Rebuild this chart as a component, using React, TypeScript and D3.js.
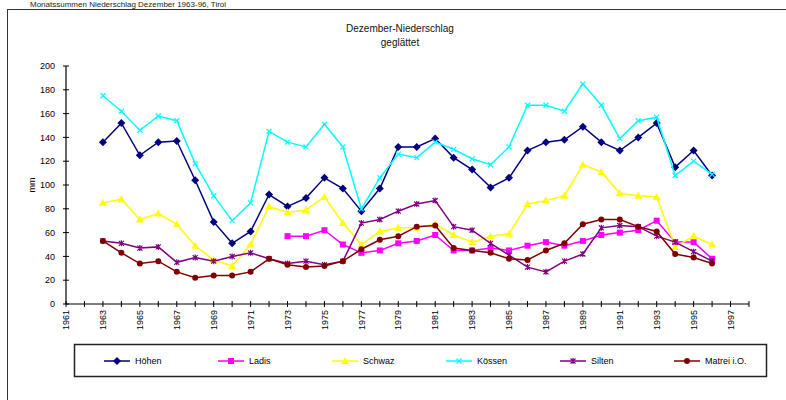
import React, { useEffect, useRef } from "react";
import * as d3 from "d3";

// Dezember-Niederschlag (geglättet), mm, 1963-1996
const firstYear = 1963;
const hoehen = [136, 152, 125, 136, 137, 104, 69, 51, 61, 92, 82, 89, 106, 97, 78, 97, 132, 132, 139, 123, 113, 98, 106, 129, 136, 138, 149, 136, 129, 140, 152, 115, 129, 108];
const koessen = [175, 162, 146, 158, 154, 118, 91, 70, 85, 145, 136, 132, 151, 132, 80, 106, 126, 123, 136, 130, 122, 117, 132, 167, 167, 162, 185, 167, 139, 154, 157, 108, 120, 109];
const schwaz = [85, 88, 71, 76, 67, 49, 37, 32, 50, 82, 77, 79, 90, 68, 50, 61, 64, 64, 67, 58, 52, 57, 59, 84, 87, 91, 117, 111, 93, 91, 90, 48, 57, 50];
// Ladis erst ab 1973
const ladisStart = 1973;
const ladis = [57, 57, 62, 50, 43, 45, 51, 53, 58, 45, 45, 47, 45, 49, 52, 49, 53, 58, 60, 62, 70, 52, 52, 38];
const silten = [53, 51, 47, 48, 35, 39, 36, 40, 43, 38, 34, 36, 33, 36, 68, 71, 78, 84, 87, 65, 62, 51, 41, 31, 27, 36, 42, 64, 66, 65, 57, 52, 44, 36];
const matrei = [53, 43, 34, 36, 27, 22, 24, 24, 27, 38, 33, 31, 32, 36, 46, 54, 57, 65, 66, 47, 45, 43, 38, 37, 45, 51, 67, 71, 71, 65, 61, 42, 39, 34];

const seriesNames = ["Höhen", "Ladis", "Schwaz", "Kössen", "Silten", "Matrei i.O."];
const yTicks = [0, 20, 40, 60, 80, 100, 120, 140, 160, 180, 200];
const xLabels = d3.range(1961, 1998, 2);

const FONT = "'Liberation Sans', Arial, sans-serif";

function App() {
  const node = useRef<SVGSVGElement | null>(null);

  useEffect(() => {
    const svg = d3.select(node.current);
    svg.selectAll("*").remove();

    const x = d3.scaleLinear().domain([1961, 1998]).range([66, 749]);
    const y = d3.scaleLinear().domain([0, 200]).range([304, 66]);

    const series = [
      { name: seriesNames[0], start: firstYear, values: hoehen, color: "#000080", marker: "diamond" },
      { name: seriesNames[1], start: ladisStart, values: ladis, color: "#FF00FF", marker: "square" },
      { name: seriesNames[2], start: firstYear, values: schwaz, color: "#FFFF00", marker: "triangle" },
      { name: seriesNames[3], start: firstYear, values: koessen, color: "#00FFFF", marker: "cross" },
      { name: seriesNames[4], start: firstYear, values: silten, color: "#800080", marker: "star" },
      { name: seriesNames[5], start: firstYear, values: matrei, color: "#800000", marker: "circle" },
    ];

    // outer chart frame
    svg.append("rect")
      .attr("x", 7.5).attr("y", 9.5)
      .attr("width", 800).attr("height", 420)
      .attr("fill", "white").attr("stroke", "#333").attr("stroke-width", 1);

    // caption above the chart
    svg.append("text")
      .attr("x", 30).attr("y", 7)
      .attr("font-family", FONT).attr("font-size", 8)
      .attr("fill", "#222")
      .text("Monatssummen Niederschlag Dezember 1963-96, Tirol");

    // title
    const title = svg.append("text")
      .attr("text-anchor", "middle")
      .attr("font-family", FONT).attr("font-size", 10)
      .attr("fill", "#111");
    title.append("tspan").attr("x", 400).attr("y", 32).text("Dezember-Niederschlag");
    title.append("tspan").attr("x", 400).attr("y", 46).text("geglättet");

    // y axis
    const yAxis = svg.append("g");
    yAxis.append("line")
      .attr("x1", x(1961)).attr("x2", x(1961))
      .attr("y1", y(200)).attr("y2", y(0))
      .attr("stroke", "#000").attr("stroke-width", 1.2);
    yTicks.forEach((t) => {
      yAxis.append("line")
        .attr("x1", x(1961) - 3).attr("x2", x(1961) + 3)
        .attr("y1", y(t)).attr("y2", y(t))
        .attr("stroke", "#000");
      yAxis.append("text")
        .attr("x", 55).attr("y", y(t)).attr("dy", "0.35em")
        .attr("text-anchor", "end")
        .attr("font-family", FONT).attr("font-size", 9)
        .text(t);
    });
    svg.append("text")
      .attr("transform", `translate(35,${y(100)}) rotate(-90)`)
      .attr("text-anchor", "middle")
      .attr("font-family", FONT).attr("font-size", 9)
      .text("mm");

    // x axis
    const xAxis = svg.append("g");
    xAxis.append("line")
      .attr("x1", x(1961)).attr("x2", x(1998))
      .attr("y1", y(0)).attr("y2", y(0))
      .attr("stroke", "#000").attr("stroke-width", 1.2);
    d3.range(1961, 1999).forEach((yr) => {
      xAxis.append("line")
        .attr("x1", x(yr)).attr("x2", x(yr))
        .attr("y1", y(0) - 3).attr("y2", y(0) + 3)
        .attr("stroke", "#000");
    });
    xLabels.forEach((yr) => {
      xAxis.append("text")
        .attr("transform", `translate(${x(yr)},${y(0) + 6}) rotate(-90)`)
        .attr("text-anchor", "end").attr("dy", "0.35em")
        .attr("font-family", FONT).attr("font-size", 9)
        .text(yr);
    });

    const drawMarker = (g: any, kind: string, cx: number, cy: number, color: string) => {
      if (kind === "diamond") {
        g.append("path").attr("d", `M${cx},${cy - 4}L${cx + 4},${cy}L${cx},${cy + 4}L${cx - 4},${cy}Z`).attr("fill", color);
      } else if (kind === "square") {
        g.append("rect").attr("x", cx - 3).attr("y", cy - 3).attr("width", 6).attr("height", 6).attr("fill", color);
      } else if (kind === "triangle") {
        g.append("path").attr("d", `M${cx},${cy - 4}L${cx + 4},${cy + 3}L${cx - 4},${cy + 3}Z`).attr("fill", color);
      } else if (kind === "cross") {
        g.append("path").attr("d", `M${cx - 2.5},${cy - 2.5}L${cx + 2.5},${cy + 2.5}M${cx + 2.5},${cy - 2.5}L${cx - 2.5},${cy + 2.5}`)
          .attr("stroke", color).attr("stroke-width", 1.2);
      } else if (kind === "star") {
        g.append("path").attr("d", `M${cx - 2.5},${cy - 2.5}L${cx + 2.5},${cy + 2.5}M${cx + 2.5},${cy - 2.5}L${cx - 2.5},${cy + 2.5}M${cx},${cy - 3}L${cx},${cy + 3}`)
          .attr("stroke", color).attr("stroke-width", 1.2);
      } else {
        g.append("circle").attr("cx", cx).attr("cy", cy).attr("r", 3).attr("fill", color);
      }
    };

    const line = d3.line<[number, number]>()
      .x((d) => x(d[0]))
      .y((d) => y(d[1]));

    series.forEach((s) => {
      const pts: [number, number][] = s.values.map((v, i) => [s.start + i, v]);
      const g = svg.append("g");
      g.append("path")
        .attr("d", line(pts))
        .attr("fill", "none")
        .attr("stroke", s.color)
        .attr("stroke-width", 1.5);
      pts.forEach((p) => drawMarker(g, s.marker, x(p[0]), y(p[1]), s.color));
    });

    // legend
    const legend = svg.append("g");
    legend.append("rect")
      .attr("x", 74.5).attr("y", 344.5)
      .attr("width", 692).attr("height", 32)
      .attr("fill", "white").attr("stroke", "#222").attr("stroke-width", 1.5);
    series.forEach((s, i) => {
      const lx = 104 + i * 114;
      const ly = 361;
      const item = legend.append("g");
      item.append("line")
        .attr("x1", lx).attr("x2", lx + 26)
        .attr("y1", ly).attr("y2", ly)
        .attr("stroke", s.color).attr("stroke-width", 1.5);
      drawMarker(item, s.marker, lx + 13, ly, s.color);
      item.append("text")
        .attr("x", lx + 31).attr("y", ly).attr("dy", "0.35em")
        .attr("font-family", FONT).attr("font-size", 9)
        .text(s.name);
    });
  }, []);

  return (
    <svg
      ref={node}
      width={786}
      height={400}
      style={{ position: "absolute", left: 0, top: 0, background: "white" }}
    />
  );
}

export default App;
